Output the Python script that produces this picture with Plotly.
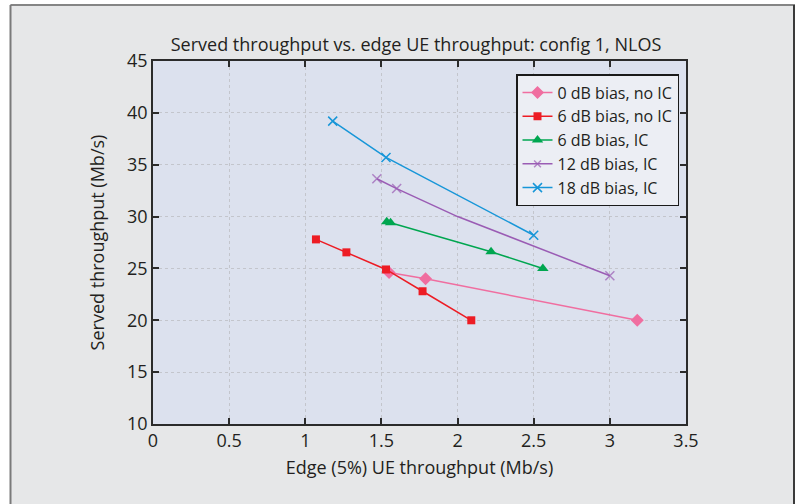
import plotly.graph_objects as go

# ---- data ----
names = ["0 dB bias, no IC", "6 dB bias, no IC", "6 dB bias, IC", "12 dB bias, IC", "18 dB bias, IC"]
x_0db = [1.55, 1.79, 3.18]
y_0db = [24.6, 24.0, 20.0]
x_6db_noic = [1.07, 1.27, 1.53, 1.77, 2.09]
y_6db_noic = [27.8, 26.55, 24.9, 22.8, 20.0]
x_6db_ic = [1.535, 1.56, 2.22, 2.56]
y_6db_ic = [29.5, 29.4, 26.6, 25.0]
x_12db_ic = [1.47, 1.60, 2.0, 3.0]
y_12db_ic = [33.65, 32.7, 30.0, 24.3]
x_18db_ic = [1.18, 1.53, 2.5]
y_18db_ic = [39.2, 35.7, 28.2]
x_ticks = [0, 0.5, 1, 1.5, 2, 2.5, 3, 3.5]
x_ticklabels = ["0", "0.5", "1", "1.5", "2", "2.5", "3", "3.5"]
y_ticks = [10, 15, 20, 25, 30, 35, 40, 45]

colors = ["#f06ea0", "#ed1c24", "#00a650", "#9a5cb4", "#1796d8"]
symbols = ["diamond", "square", "triangle-up", "x-thin", "x-thin"]
sizes = [10, 8, 10, 9, 9]
series = [(x_0db, y_0db), (x_6db_noic, y_6db_noic), (x_6db_ic, y_6db_ic),
          (x_12db_ic, y_12db_ic), (x_18db_ic, y_18db_ic)]

FONT = "Open Sans"
TXT = "#231f20"
W, H = 798, 504
L, R, T, B = 153, 686, 61, 424

fig = go.Figure()
for i, (xs, ys) in enumerate(series):
    msize = sizes[i]
    if i == 3:
        msize = [sizes[i], sizes[i], 0, sizes[i]]
    fig.add_trace(go.Scatter(
        x=xs, y=ys, name=names[i], mode="lines+markers",
        line=dict(color=colors[i], width=1.5),
        marker=dict(symbol=symbols[i], size=msize, color=colors[i],
                    line=dict(color=colors[i], width=1.5 if "x" in symbols[i] else 0)),
    ))

def px(xp):
    return (xp - L) / (R - L)

def py(yp):
    return (B - yp) / (B - T)

shapes = [
    dict(type="rect", xref="paper", yref="paper", x0=px(-5), x1=px(10), y0=py(510), y1=py(-5),
         fillcolor="white", line=dict(width=0), layer="below"),
    dict(type="rect", xref="paper", yref="paper", x0=px(-5), x1=px(805), y0=py(4), y1=py(-5),
         fillcolor="white", line=dict(width=0), layer="below"),
    dict(type="rect", xref="paper", yref="paper", x0=px(795), x1=px(805), y0=py(510), y1=py(-5),
         fillcolor="white", line=dict(width=0), layer="below"),
    dict(type="line", xref="paper", yref="paper", x0=px(10.5), x1=px(795), y0=py(5), y1=py(5),
         line=dict(color="#858585", width=2)),
    dict(type="line", xref="paper", yref="paper", x0=px(10.5), x1=px(10.5), y0=py(5), y1=py(510),
         line=dict(color="#7a7a7a", width=2)),
    dict(type="line", xref="paper", yref="paper", x0=px(794), x1=px(794), y0=py(5), y1=py(510),
         line=dict(color="#3a3a3a", width=2)),
]

axis_common = dict(
    showline=True, linecolor="#2b2b2b", linewidth=1.5, mirror="ticks",
    ticks="inside", ticklen=6, tickwidth=1.5, tickcolor="#2b2b2b",
    showgrid=True, gridcolor="#c3c5cc", gridwidth=1.2, griddash="3px,3px",
    zeroline=False, tickfont=dict(family=FONT, size=18, color=TXT),
)

fig.update_layout(
    width=W, height=H,
    margin=dict(l=L, r=W - R, t=T, b=H - B),
    paper_bgcolor="#e6e7e8",
    plot_bgcolor="#dce1ee",
    font=dict(family=FONT, size=18, color=TXT),
    title=dict(text="Served throughput vs. edge UE throughput: config 1, NLOS",
               xref="container", x=416 / W, xanchor="center",
               yref="container", y=1 - 45 / H, yanchor="middle",
               font=dict(family=FONT, size=18, color=TXT)),
    xaxis=dict(range=[0, 3.5], tickvals=x_ticks, ticktext=x_ticklabels,
               title=dict(text="Edge (5%) UE throughput (Mb/s)", standoff=10,
                          font=dict(family=FONT, size=18)),
               **axis_common),
    yaxis=dict(range=[10, 45], tickvals=y_ticks,
               title=dict(text="Served throughput (Mb/s)", standoff=18,
                          font=dict(family=FONT, size=18)),
               **axis_common),
    legend=dict(x=px(679), y=py(74), xanchor="right", yanchor="top",
                bgcolor="#eceef4", bordercolor="#1a1a1a", borderwidth=1.5,
                font=dict(family=FONT, size=16, color=TXT),
                tracegroupgap=0, itemwidth=30),
    shapes=shapes,
    showlegend=True,
)

fig.write_html("out.html", config={"displayModeBar": False},
               post_script="document.body.style.margin='0';")
